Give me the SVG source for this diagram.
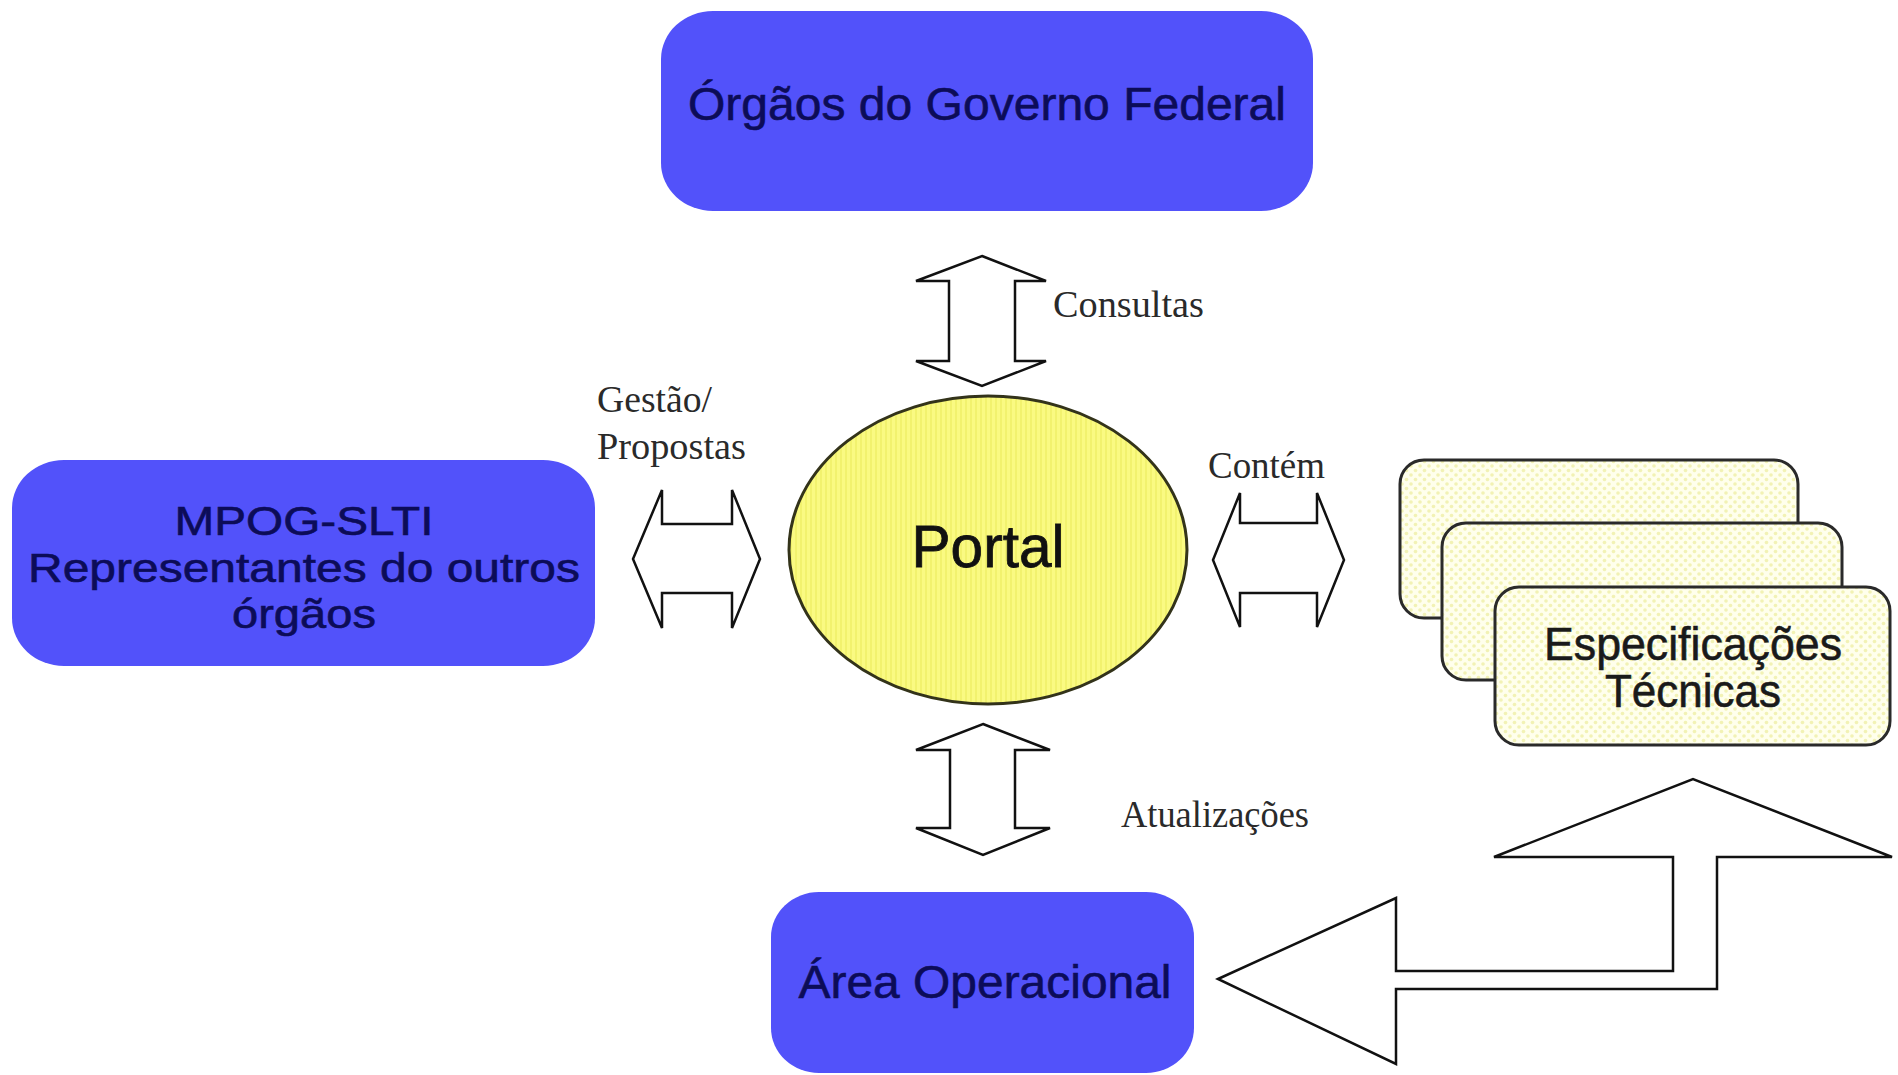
<svg xmlns="http://www.w3.org/2000/svg" width="1898" height="1075" viewBox="0 0 1898 1075">
<defs>
<pattern id="stripes" width="5" height="10" patternUnits="userSpaceOnUse">
<rect width="5" height="10" fill="#FAFA82"/>
<rect width="2" height="10" fill="#F2F26E"/>
</pattern>
<pattern id="dots" width="9" height="9" patternUnits="userSpaceOnUse">
<rect width="9" height="9" fill="#FFFFEC"/>
<circle cx="2.5" cy="2.5" r="1.8" fill="#F2F2B4"/>
<circle cx="7" cy="7" r="1.8" fill="#F2F2B4"/>
</pattern>
<style>
.blue{fill:#5252FA;}
.bt{font-family:"Liberation Sans",Arial,sans-serif;font-size:47px;fill:#0C0C58;stroke:#0C0C58;stroke-width:0.6;text-anchor:middle;}
.bt2{font-size:41px;}
.lbl{font-family:"Liberation Serif","Times New Roman",serif;font-size:38px;fill:#2a2a2a;}
.arrow{fill:#fff;stroke:#111;stroke-width:2.5;stroke-linejoin:miter;}
.spec{fill:url(#dots);stroke:#2a2a2a;stroke-width:3;}
</style>
</defs>
<rect width="1898" height="1075" fill="#fff"/>

<g id="connectors">
<polygon id="arrow-consultas" class="arrow" points="982,256 1046,281 1015,281 1015,361 1046,361 982,386 916,361 949,361 949,281 916,281"/>
<polygon id="arrow-atualizacoes" class="arrow" points="983,724 1050,750 1015,750 1015,828 1050,828 983,855 916,828 950,828 950,750 916,750"/>
<polygon id="arrow-gestao" class="arrow" points="633,559 662,490 662,524 732,524 732,490 760,559 732,628 732,593 662,593 662,628"/>
<polygon id="arrow-contem" class="arrow" points="1213,560 1240,493 1240,523 1317,523 1317,493 1344,560 1317,627 1317,593 1240,593 1240,627"/>
<polygon id="arrow-bent" class="arrow" points="1218,979 1396,898 1396,971 1673,971 1673,857 1494,857 1693,779 1892,857 1717,857 1717,989 1396,989 1396,1064"/>
<text class="lbl" x="1053" y="317" textLength="151" lengthAdjust="spacingAndGlyphs">Consultas</text>
<text class="lbl" x="597" y="412" textLength="115" lengthAdjust="spacingAndGlyphs">Gestão/</text>
<text class="lbl" x="597" y="459" textLength="149" lengthAdjust="spacingAndGlyphs">Propostas</text>
<text class="lbl" x="1208" y="478" textLength="117" lengthAdjust="spacingAndGlyphs">Contém</text>
<text class="lbl" x="1121" y="827" textLength="188" lengthAdjust="spacingAndGlyphs">Atualizações</text>
</g>

<g id="node-orgaos">
<rect class="blue" x="661" y="11" width="652" height="200" rx="52" ry="48"/>
<text class="bt" x="987" y="120" textLength="598" lengthAdjust="spacingAndGlyphs">Órgãos do Governo Federal</text>
</g>

<g id="node-mpog">
<rect class="blue" x="12" y="460" width="583" height="206" rx="52" ry="48"/>
<text class="bt bt2" x="304" y="535" textLength="259" lengthAdjust="spacingAndGlyphs">MPOG-SLTI</text>
<text class="bt bt2" x="304" y="582" textLength="552" lengthAdjust="spacingAndGlyphs">Representantes do outros</text>
<text class="bt bt2" x="304" y="628" textLength="144" lengthAdjust="spacingAndGlyphs">órgãos</text>
</g>

<g id="node-portal">
<ellipse cx="988" cy="550" rx="199" ry="154" fill="url(#stripes)" stroke="#33331a" stroke-width="3"/>
<text x="988" y="567" font-family="'Liberation Sans',Arial,sans-serif" font-size="60" fill="#111" stroke="#111" stroke-width="0.8" text-anchor="middle" textLength="153" lengthAdjust="spacingAndGlyphs">Portal</text>
</g>

<g id="node-especificacoes">
<rect class="spec" x="1400" y="460" width="398" height="158" rx="24"/>
<rect class="spec" x="1442" y="523" width="400" height="157" rx="24"/>
<rect class="spec" x="1495" y="587" width="395" height="158" rx="24"/>
<text x="1693" y="660" font-family="'Liberation Sans',Arial,sans-serif" font-size="46" fill="#1a1a1a" stroke="#1a1a1a" stroke-width="0.6" text-anchor="middle" textLength="298" lengthAdjust="spacingAndGlyphs">Especificações</text>
<text x="1693" y="707" font-family="'Liberation Sans',Arial,sans-serif" font-size="46" fill="#1a1a1a" stroke="#1a1a1a" stroke-width="0.6" text-anchor="middle" textLength="176" lengthAdjust="spacingAndGlyphs">Técnicas</text>
</g>

<g id="node-area">
<rect class="blue" x="771" y="892" width="423" height="181" rx="48" ry="45"/>
<text class="bt" x="985" y="998" textLength="373" lengthAdjust="spacingAndGlyphs">Área Operacional</text>
</g>
</svg>
